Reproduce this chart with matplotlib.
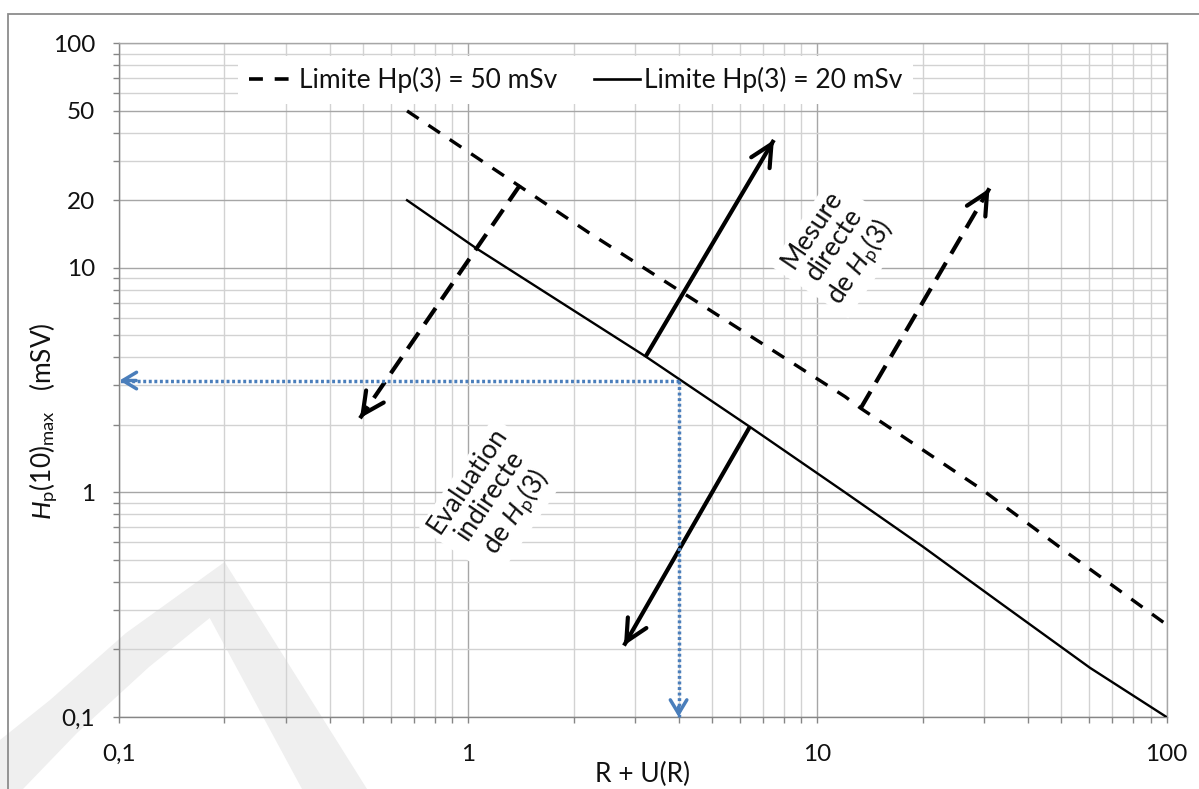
import matplotlib
matplotlib.use('Agg')
import matplotlib.pyplot as plt
from matplotlib.patches import Polygon, Rectangle
from matplotlib.lines import Line2D

plt.rcParams['font.family'] = ['Lato', 'DejaVu Sans']
plt.rcParams['mathtext.fontset'] = 'custom'
plt.rcParams['mathtext.rm'] = 'Lato'
plt.rcParams['mathtext.it'] = 'Lato:italic'
plt.rcParams['lines.scale_dashes'] = False

# ---------------- data ----------------
x_limit20 = [0.667, 1.055, 3.22, 6.4, 12, 20, 33.4, 60.4, 100]
y_limit20 = [20, 12.2, 4.03, 1.96, 1.0, 0.575, 0.322, 0.1655, 0.1]

x_limit50 = [0.667, 1.34, 2.22, 12, 13.3, 29.6, 52.9, 100]
y_limit50 = [50, 24.2, 14.3, 2.67, 2.37, 1.03, 0.528, 0.258]

# arrows: (start, tip)
arrow_direct_solid = [(3.21, 4.0), (7.5, 37.1)]
arrow_direct_dashed = [(13.3, 2.37), (31.1, 22.6)]
arrow_indirect_solid = [(6.4, 1.96), (2.79, 0.208)]
arrow_indirect_dashed = [(1.406, 23.4), (0.489, 2.14)]

# blue example read-out
example_x = 4.0
example_y = 3.15

xticks = [0.1, 1, 10, 100]
xticklabels = ['0,1', '1', '10', '100']
yticks = [0.1, 1, 10, 20, 50, 100]
yticklabels = ['0,1', '1', '10', '20', '50', '100']

label_20 = 'Limite Hp(3) = 20 mSv'
label_50 = 'Limite Hp(3) = 50 mSv'
text_direct = 'Mesure\ndirecte\nde $H_\\mathrm{p}$(3)'
text_indirect = 'Evaluation\nindirecte\nde $H_\\mathrm{p}$(3)'
text_direct_pos = (11.4, 12.4)
text_indirect_pos = (1.18, 0.95)

# ---------------- figure ----------------
W, H = 1199, 789
fig = plt.figure(figsize=(W / 100, H / 100), dpi=100)
fig.patch.set_facecolor('white')

def fx(px):
    return px / W

def fy(py):
    return 1 - py / H

TXT = '#111111'
FS_TICK = 17.5
FS_TXT = 19

# watermark shape (decoration)
wm = [(0, 789), (0, 740), (50, 700), (126, 633), (224.6, 562), (367, 789),
      (302, 789), (209.7, 618), (149, 667), (77, 733), (23, 789)]
fig.add_artist(Polygon([(fx(a), fy(b)) for a, b in wm], closed=True,
                       transform=fig.transFigure, facecolor='#efefef',
                       edgecolor='none', zorder=-5))
# outer chart border
fig.add_artist(Rectangle((fx(8), -0.2), 1.2, fy(14) + 0.2, transform=fig.transFigure,
                         fill=False, edgecolor='#8c8c8c', lw=1.3, zorder=-4))

ax = fig.add_axes([fx(119.4), fy(717), fx(1166.5) - fx(119.4), fy(43.3) - fy(717)])
ax.patch.set_alpha(0)
ax.set_xscale('log')
ax.set_yscale('log')
ax.set_xlim(0.1, 100)
ax.set_ylim(0.1, 100)

ax.set_xticks(xticks)
ax.set_xticklabels(xticklabels)
ax.set_yticks(yticks)
ax.set_yticklabels(yticklabels)
ax.grid(which='major', color='#a6a6a6', lw=1.0, zorder=0)
ax.grid(which='minor', color='#d2d2d2', lw=1.0, zorder=0)
ax.set_axisbelow(True)
for s in ['left', 'bottom']:
    ax.spines[s].set_color('#868686')
    ax.spines[s].set_linewidth(1.0)
for s in ['top', 'right']:
    ax.spines[s].set_color('#a6a6a6')
    ax.spines[s].set_linewidth(1.0)
ax.tick_params(which='both', direction='out', length=4.5, width=1.0, color='#868686',
               labelsize=FS_TICK, labelcolor=TXT)
ax.tick_params(axis='y', which='both', pad=13)
ax.tick_params(axis='x', which='both', pad=15)

# main lines
ax.plot(x_limit50, y_limit50, color='black', lw=2.4, dashes=(10, 8.5),
        solid_capstyle='butt', zorder=3)
ax.plot(x_limit20, y_limit20, color='black', lw=1.7, zorder=3)

def draw_arrow(p0, p1, lw, color, dashes=None, hl=0.65, hw=0.32, ms=20):
    line, = ax.plot([p0[0], p1[0]], [p0[1], p1[1]], color=color, lw=lw,
                    solid_capstyle='butt', dash_capstyle='butt', zorder=5, clip_on=False)
    if dashes is not None:
        line.set_dashes(dashes)
    f = 0.03
    back = (p1[0] * (p0[0] / p1[0]) ** f, p1[1] * (p0[1] / p1[1]) ** f)
    ax.annotate('', xy=p1, xytext=back, annotation_clip=False,
                arrowprops=dict(arrowstyle='->,head_length=%g,head_width=%g' % (hl, hw),
                                lw=lw, color=color, shrinkA=0, shrinkB=0,
                                mutation_scale=ms), zorder=6)

draw_arrow(*arrow_direct_solid, lw=3.0, color='black', ms=24)
draw_arrow(*arrow_indirect_solid, lw=3.0, color='black', ms=24)
draw_arrow(*arrow_direct_dashed, lw=3.0, color='black', dashes=(14, 7.5), ms=24)
draw_arrow(*arrow_indirect_dashed, lw=3.0, color='black', dashes=(14, 7.5), ms=24)

blue = '#4a7ebb'
draw_arrow((example_x, example_y), (0.1, example_y), lw=2.5, color=blue,
           dashes=(2.1, 1.9), hl=0.55, hw=0.33, ms=18)
draw_arrow((example_x, example_y), (example_x, 0.1), lw=2.5, color=blue,
           dashes=(2.1, 1.9), hl=0.55, hw=0.33, ms=18)

# rotated annotations
for txt, pos in [(text_direct, text_direct_pos), (text_indirect, text_indirect_pos)]:
    ax.text(pos[0], pos[1], txt, rotation=56, rotation_mode='anchor', ha='center',
            va='center', multialignment='center', fontsize=FS_TXT, color=TXT,
            linespacing=1.1, zorder=4,
            bbox=dict(facecolor='white', edgecolor='none', pad=4))

# legend
handles = [Line2D([], [], color='black', lw=2.6, dashes=(10, 8.5), solid_capstyle='butt'),
           Line2D([], [], color='black', lw=1.9)]
leg = ax.legend(handles, [label_50, label_20], loc='center left',
                bbox_to_anchor=(0.1009, 0.9455), ncol=2, fontsize=FS_TXT,
                handlelength=1.75, handletextpad=0.15, columnspacing=1.4,
                borderpad=0.4, frameon=True, fancybox=False, framealpha=1,
                facecolor='white', edgecolor='none')
for t in leg.get_texts():
    t.set_color(TXT)

# axis labels
ax.set_xlabel('R + U(R)', fontsize=FS_TXT, color=TXT, va='bottom')
ax.xaxis.set_label_coords(0.5, -(787 - 717) / 673.7)
fig.text(fx(44), fy(421), '$H_\\mathrm{p}(10)_\\mathrm{max}$   (mSV)', rotation=90,
         ha='center', va='center', fontsize=FS_TXT, color=TXT)

fig.savefig('out.png', dpi=100, facecolor='white')
